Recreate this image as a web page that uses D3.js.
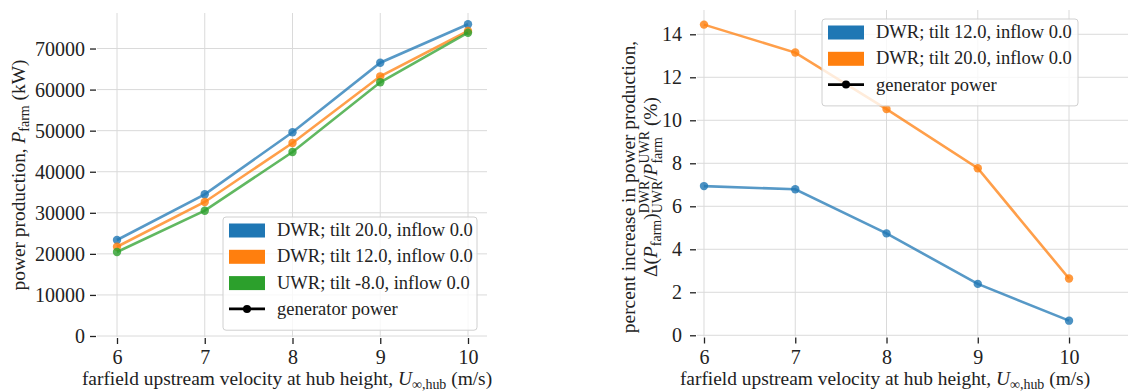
<!DOCTYPE html>
<html>
<head>
<meta charset="utf-8">
<script src="https://cdn.jsdelivr.net/npm/d3@7"></script>
<style>
  body { margin: 0; background: #fff; }
</style>
</head>
<body>
<svg id="chart" width="1140" height="392"></svg>
<script>
// wind speeds (m/s)
const speeds = [6, 7, 8, 9, 10];

// left panel: farm power (kW)
const powerDwr20 = [23370, 34500, 49600, 66550, 75900];
const powerDwr12 = [21740, 32630, 47000, 63230, 74260];
const powerUwr = [20450, 30510, 44800, 61770, 73850];
const powerTicks = [0, 10000, 20000, 30000, 40000, 50000, 60000, 70000];

// right panel: percent increase over UWR
const pctDwr12 = [6.94, 6.79, 4.74, 2.39, 0.68];
const pctDwr20 = [14.45, 13.15, 10.52, 7.77, 2.64];
const pctTicks = [0, 2, 4, 6, 8, 10, 12, 14];

const leftLabels = ['DWR; tilt 20.0, inflow 0.0', 'DWR; tilt 12.0, inflow 0.0', 'UWR; tilt -8.0, inflow 0.0'];
const rightLabels = ['DWR; tilt 12.0, inflow 0.0', 'DWR; tilt 20.0, inflow 0.0'];
const colors = ['#1f77b4', '#ff7f0e', '#2ca02c'];

const FONT = "'Liberation Serif', serif";
const TICK_FS = 20;
const LEG_FS = 18.5;
const LAB_FS = 19.4;
const svg = d3.select('#chart');

// lays out a run of text pieces (for sub/superscripts), centred at 0
function mathText(parent, runs, size) {
  const g = parent.append('g');
  let x = 0, prevStart = 0, prevW = 0;
  runs.forEach(r => {
    const start = r.stack ? prevStart : x;
    const el = g.append('text')
      .attr('x', start)
      .attr('y', r.dy || 0)
      .style('font-family', FONT)
      .style('font-size', size * (r.s || 1) + 'px')
      .style('font-style', r.it ? 'italic' : 'normal')
      .attr('fill', '#222')
      .style('white-space', 'pre')
      .text(r.t);
    const w = el.node().getComputedTextLength();
    x = r.stack ? prevStart + Math.max(prevW, w) : start + w;
    prevStart = start;
    prevW = w;
  });
  g.selectAll('text').attr('x', function () { return +d3.select(this).attr('x') - x / 2; });
  return g;
}

function drawPanel(cfg) {
  const x = d3.scaleLinear().domain(cfg.xDomain).range([cfg.left, cfg.right]);
  const y = d3.scaleLinear().domain(cfg.yDomain).range([cfg.bottom, cfg.top]);
  const g = svg.append('g');

  // grid
  g.selectAll('.hgrid').data(cfg.yTicks).enter().append('line')
    .attr('x1', cfg.left).attr('x2', cfg.right)
    .attr('y1', d => y(d)).attr('y2', d => y(d))
    .attr('stroke', '#dadada').attr('stroke-width', 1);
  g.selectAll('.vgrid').data(speeds).enter().append('line')
    .attr('x1', d => x(d)).attr('x2', d => x(d))
    .attr('y1', cfg.top).attr('y2', cfg.bottom + 1)
    .attr('stroke', '#dadada').attr('stroke-width', 1);

  // y axis (ticks + labels, no spine)
  const yAxis = g.append('g').attr('transform', `translate(${cfg.left - 1},0)`)
    .call(d3.axisLeft(y).tickValues(cfg.yTicks).tickSize(6).tickPadding(cfg.yPad).tickFormat(d3.format('d')));
  yAxis.select('.domain').remove();
  yAxis.selectAll('line').attr('stroke', '#222').attr('stroke-width', 1.3);
  yAxis.selectAll('text').attr('fill', '#222').attr('dy', '0.33em')
    .style('font-family', FONT).style('font-size', TICK_FS + 'px');

  const xAxis = g.append('g').attr('transform', `translate(0,${cfg.bottom + 2})`)
    .call(d3.axisBottom(x).tickValues(speeds).tickSize(6).tickPadding(6).tickFormat(d3.format('d')));
  xAxis.select('.domain').remove();
  xAxis.selectAll('line').attr('stroke', '#222').attr('stroke-width', 1.3);
  xAxis.selectAll('text').attr('fill', '#222')
    .style('font-family', FONT).style('font-size', TICK_FS + 'px');

  // series
  const line = d3.line().x((d, i) => x(speeds[i])).y(d => y(d));
  cfg.series.forEach((s, k) => {
    g.append('path').datum(s).attr('d', line)
      .attr('fill', 'none').attr('stroke', cfg.colors[k])
      .attr('stroke-width', 2.6).attr('stroke-opacity', 0.75);
    g.selectAll(null).data(s).enter().append('circle')
      .attr('cx', (d, i) => x(speeds[i])).attr('cy', d => y(d)).attr('r', 4.2)
      .attr('fill', cfg.colors[k]).attr('fill-opacity', 0.8);
  });

  // x label
  const xl = g.append('g').attr('transform', `translate(${cfg.xLabelX},385)`);
  mathText(xl, [
    { t: 'farfield upstream velocity at hub height, ' },
    { t: 'U', it: true },
    { t: '∞,hub', s: 0.72, dy: 3.5 },
    { t: ' (m/s)' }
  ], LAB_FS);

  // legend
  const lg = g.append('g').attr('transform', `translate(${cfg.legend.x},${cfg.legend.y})`);
  const rowH = 26.3;
  const n = cfg.labels.length + 1;
  lg.append('rect').attr('x', 0).attr('y', 0)
    .attr('width', cfg.legend.w).attr('height', 10 + n * rowH - 2)
    .attr('rx', 3).attr('fill', '#fff').attr('fill-opacity', 0.8)
    .attr('stroke', '#d0d0d0').attr('stroke-width', 1);
  const entries = cfg.labels.concat(['generator power']);
  entries.forEach((lab, i) => {
    const cy = 13 + i * rowH;
    if (i < cfg.labels.length) {
      lg.append('rect').attr('x', 6).attr('y', cy - 6.5).attr('width', 36).attr('height', 14)
        .attr('fill', cfg.colors[i]);
    } else {
      lg.append('line').attr('x1', 6).attr('x2', 42).attr('y1', cy).attr('y2', cy)
        .attr('stroke', '#000').attr('stroke-width', 2.6);
      lg.append('circle').attr('cx', 24).attr('cy', cy).attr('r', 4).attr('fill', '#000');
    }
    lg.append('text').attr('x', 54).attr('y', cy + 6)
      .style('font-family', FONT).style('font-size', LEG_FS + 'px').attr('fill', '#222').text(lab);
  });
  return g;
}

drawPanel({
  left: 97, right: 487, top: 13, bottom: 336,
  xDomain: [6 - 20 / 87.75, 10 + 19 / 87.75],
  yDomain: [0, 78650],
  yTicks: powerTicks, yPad: 5,
  series: [powerDwr20, powerDwr12, powerUwr],
  colors: colors,
  labels: leftLabels,
  legend: { x: 223, y: 217, w: 254 },
  xLabelX: 287
});

drawPanel({
  left: 697, right: 1128, top: 10, bottom: 335.5,
  xDomain: [6 - 7 / 91.3, 10 + 59 / 91.3],
  yDomain: [-0.01, 15.13],
  yTicks: pctTicks, yPad: 8,
  series: [pctDwr12, pctDwr20],
  colors: colors,
  labels: rightLabels,
  legend: { x: 822, y: 19, w: 256 },
  xLabelX: 885
});

// y labels
const yl1 = svg.append('g').attr('transform', 'translate(25,175) rotate(-90)');
mathText(yl1, [
  { t: 'power production, ' },
  { t: 'P', it: true },
  { t: 'farm', s: 0.72, dy: 4 },
  { t: ' (kW)' }
], LAB_FS);

const yl2a = svg.append('g').attr('transform', 'translate(635,187) rotate(-90)');
mathText(yl2a, [{ t: 'percent increase in power production,' }], LAB_FS);

const yl2b = svg.append('g').attr('transform', 'translate(657,187) rotate(-90)');
mathText(yl2b, [
  { t: 'Δ(' },
  { t: 'P', it: true },
  { t: 'farm', s: 0.72, dy: 4 },
  { t: ')' },
  { t: 'DWR', s: 0.72, dy: -8 },
  { t: 'UWR', s: 0.72, dy: 5, stack: true },
  { t: '/' },
  { t: 'P', it: true },
  { t: 'UWR', s: 0.72, dy: -8 },
  { t: 'farm', s: 0.72, dy: 5, stack: true },
  { t: ' (%)' }
], LAB_FS);
</script>
</body>
</html>
